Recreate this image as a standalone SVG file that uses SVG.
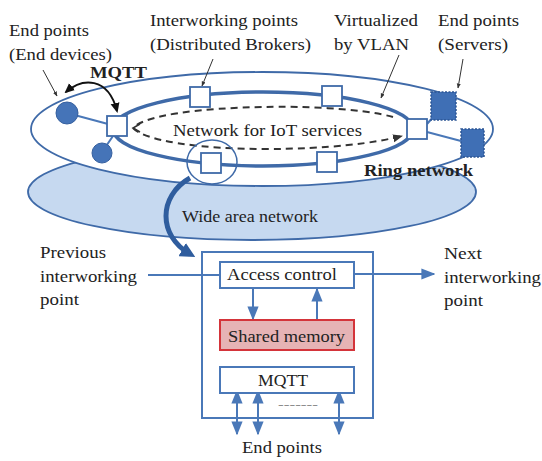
<svg xmlns="http://www.w3.org/2000/svg" width="542" height="461" viewBox="0 0 542 461">
<defs>
<style>
text{font-family:"Liberation Serif","Times New Roman",serif;fill:#222;font-size:17.5px}
.b{font-weight:bold}
.sq{fill:#fff;stroke:#3f6aa8;stroke-width:1.8}
.srv{fill:#3f6fb5;stroke:#2c5694;stroke-width:1.5;stroke-dasharray:2 1.5}
.dev{fill:#4574b8;stroke:#36609f;stroke-width:1}
.ln{stroke:#4a78b8;stroke-width:2;fill:none}
.box{fill:#fff;stroke:#4a78b8;stroke-width:2}
.ptr{stroke:#333;stroke-width:1;fill:none}
</style>
<marker id="ah" viewBox="0 0 10 10" refX="9" refY="5" markerWidth="7" markerHeight="7" orient="auto-start-reverse"><path d="M0,1 L10,5 L0,9 z" fill="#4a78b8"/></marker>
<marker id="ap" viewBox="0 0 10 10" refX="9" refY="5" markerWidth="5" markerHeight="5" orient="auto"><path d="M0,1 L10,5 L0,9 z" fill="#333"/></marker>
<marker id="ab" viewBox="0 0 10 10" refX="8" refY="5" markerWidth="5" markerHeight="5" orient="auto-start-reverse"><path d="M0,0.5 L10,5 L0,9.5 z" fill="#111"/></marker>
<marker id="ad" viewBox="0 0 10 10" refX="9" refY="5" markerWidth="5" markerHeight="5" orient="auto-start-reverse"><path d="M0,1 L10,5 L0,9 z" fill="#333"/></marker>
<marker id="aw" viewBox="0 0 10 10" refX="6" refY="5" markerWidth="3" markerHeight="3" orient="auto"><path d="M0,0 L10,5 L0,10 z" fill="#2f5d9e"/></marker>
</defs>

<g id="wan">
<ellipse cx="252" cy="192" rx="224" ry="48" fill="#c6d9f0" stroke="#3f6aa8" stroke-width="1.8"/>
</g>
<g id="outer-ring">
<ellipse cx="262" cy="129" rx="231" ry="57" fill="#fff" stroke="#3f6aa8" stroke-width="1.8"/>
</g>
<g id="ring">
<ellipse cx="263" cy="129" rx="150" ry="37" fill="none" stroke="#3f6aa8" stroke-width="3.5"/>
</g>

<g id="connectors">
<!-- dashed overlay network path -->
<path d="M393,117 C360,108 300,106 265,107 C200,108 145,115 133,128 C145,141 200,149 265,149 C330,149 375,143 402,136" fill="none" stroke="#333" stroke-width="2" stroke-dasharray="7 5" marker-end="url(#ad)"/>
<path d="M140,124 L133,128 L140,132" fill="none" stroke="#333" stroke-width="1.5"/>
<!-- device links -->
<line x1="67" y1="113" x2="108" y2="124" class="ln"/>
<line x1="102" y1="152" x2="113" y2="136" class="ln"/>
<line x1="427" y1="124" x2="434" y2="116" class="ln"/>
<line x1="427" y1="132" x2="461" y2="141" class="ln"/>
<!-- MQTT double arrow -->
<path d="M66,92 C82,78 108,76 117,111" fill="none" stroke="#111" stroke-width="2" marker-start="url(#ab)" marker-end="url(#ab)"/>
<!-- pointers -->
<line x1="43" y1="70" x2="57" y2="96" class="ptr" marker-end="url(#ap)"/>
<line x1="213" y1="59" x2="202" y2="86" class="ptr" marker-end="url(#ap)"/>
<line x1="399" y1="55" x2="381" y2="98" class="ptr" marker-end="url(#ap)"/>
<line x1="463" y1="59" x2="458" y2="88" class="ptr" marker-end="url(#ap)"/>
<!-- zoom circle and thick arrow -->
<ellipse cx="212" cy="162" rx="25" ry="22" fill="none" stroke="#3f6aa8" stroke-width="1.5"/>
<path d="M190,178 C158,196 158,236 190,254" fill="none" stroke="#2f5d9e" stroke-width="5" marker-end="url(#aw)"/>
<!-- bottom box links -->
<line x1="148" y1="275" x2="220" y2="275" class="ln"/>
<line x1="354" y1="274" x2="434" y2="274" class="ln" marker-end="url(#ah)"/>
<line x1="253" y1="288" x2="253" y2="319" class="ln" marker-end="url(#ah)"/>
<line x1="317" y1="320" x2="317" y2="289" class="ln" marker-end="url(#ah)"/>
<line x1="237" y1="391" x2="237" y2="434" class="ln" marker-start="url(#ah)" marker-end="url(#ah)"/>
<line x1="258" y1="391" x2="258" y2="434" class="ln" marker-start="url(#ah)" marker-end="url(#ah)"/>
<line x1="339" y1="391" x2="339" y2="434" class="ln" marker-start="url(#ah)" marker-end="url(#ah)"/>
</g>

<g id="ip-left"><rect class="sq" x="107" y="116" width="20" height="20"/></g>
<g id="ip-top-left"><rect class="sq" x="190" y="87" width="20" height="20"/></g>
<g id="ip-top-right"><rect class="sq" x="322" y="86" width="20" height="20"/></g>
<g id="ip-right"><rect class="sq" x="407" y="119" width="20" height="20"/></g>
<g id="ip-bottom-left"><rect class="sq" x="201" y="153" width="20" height="20"/></g>
<g id="ip-bottom-right"><rect class="sq" x="317" y="152" width="20" height="20"/></g>

<g id="dev1"><circle class="dev" cx="67" cy="113" r="11"/></g>
<g id="dev2"><circle class="dev" cx="102" cy="153" r="10"/></g>
<g id="srv1"><rect class="srv" x="431" y="92" width="25" height="28"/></g>
<g id="srv2"><rect class="srv" x="461" y="129" width="23" height="28"/></g>

<g id="labels">
<text x="9" y="36" textLength="80" lengthAdjust="spacingAndGlyphs">End points</text>
<text x="9" y="60" textLength="103" lengthAdjust="spacingAndGlyphs">(End devices)</text>
<text x="90" y="78" class="b" textLength="57" lengthAdjust="spacingAndGlyphs">MQTT</text>
<text x="150" y="26" textLength="148" lengthAdjust="spacingAndGlyphs">Interworking points</text>
<text x="150" y="50" textLength="161" lengthAdjust="spacingAndGlyphs">(Distributed Brokers)</text>
<text x="334" y="26" textLength="84" lengthAdjust="spacingAndGlyphs">Virtualized</text>
<text x="334" y="50" textLength="75" lengthAdjust="spacingAndGlyphs">by VLAN</text>
<text x="438" y="26" textLength="81" lengthAdjust="spacingAndGlyphs">End points</text>
<text x="438" y="50" textLength="70" lengthAdjust="spacingAndGlyphs">(Servers)</text>
<text x="173" y="136" textLength="189" lengthAdjust="spacingAndGlyphs">Network for IoT services</text>
<text x="364" y="176" class="b" textLength="109" lengthAdjust="spacingAndGlyphs">Ring network</text>
<text x="182" y="222" textLength="136" lengthAdjust="spacingAndGlyphs">Wide area network</text>
<text x="40" y="258" textLength="66" lengthAdjust="spacingAndGlyphs">Previous</text>
<text x="40" y="282" textLength="97" lengthAdjust="spacingAndGlyphs">interworking</text>
<text x="40" y="305" textLength="39" lengthAdjust="spacingAndGlyphs">point</text>
<text x="444" y="259" textLength="38" lengthAdjust="spacingAndGlyphs">Next</text>
<text x="444" y="283" textLength="97" lengthAdjust="spacingAndGlyphs">interworking</text>
<text x="444" y="306" textLength="39" lengthAdjust="spacingAndGlyphs">point</text>
<text x="242" y="453" textLength="80" lengthAdjust="spacingAndGlyphs">End points</text>
</g>

<g id="broker">
<rect x="202" y="252" width="171" height="166" fill="none" stroke="#4a78b8" stroke-width="2"/>
</g>
<g id="access-control">
<rect class="box" x="220" y="262" width="134" height="26"/>
<text x="227" y="280" textLength="110" lengthAdjust="spacingAndGlyphs">Access control</text>
</g>
<g id="shared-memory">
<rect x="220" y="320" width="134" height="30" fill="#e6b3b5" stroke="#d4343a" stroke-width="2"/>
<text x="228" y="342" textLength="117" lengthAdjust="spacingAndGlyphs">Shared memory</text>
</g>
<g id="mqtt">
<rect class="box" x="220" y="367" width="134" height="26"/>
<text x="258" y="386" textLength="50" lengthAdjust="spacingAndGlyphs">MQTT</text>
<text x="278" y="408" style="font-size:11px;fill:#777" textLength="40" lengthAdjust="spacingAndGlyphs">-------</text>
</g>
</svg>
